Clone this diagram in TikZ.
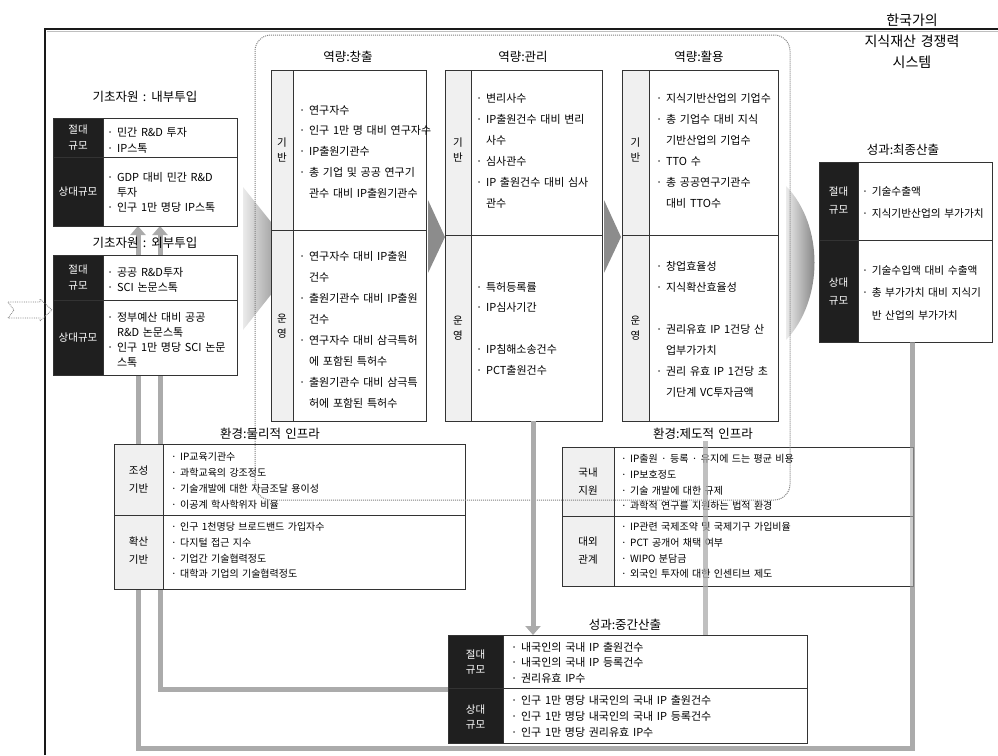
\documentclass[tikz,border=0pt]{standalone}
\usepackage{fontspec}
\setmainfont{Noto Sans CJK KR}[WordSpace=1.5]
\usetikzlibrary{arrows.meta}
\newcommand\myind{\phantom{· }}
\newcommand\mytable[8]{%
  \node[draw=black!80, line width=1pt, fill=white, inner sep=0pt, outer sep=0pt,
        minimum width={(#4-#2)*1pt}, minimum height={(#5-#3)*1pt}] (#1) at ({(#2+#4)/2},{(#3+#5)/2}) {};
  \fill[#8] (#2,#3) rectangle (#6,#5);
  \draw[black!80, line width=1pt] (#2,#3) rectangle (#4,#5) (#6,#3) -- (#6,#5) (#2,#7) -- (#4,#7);
}
\tikzset{
  txt/.style={font=\fontsize{10}{#1}\selectfont, align=left, anchor=west, inner sep=0pt},
  txt/.default=16,
  btxt/.style={font=\fontsize{11}{#1}\selectfont, align=left, anchor=west, inner sep=0pt},
  btxt/.default=16,
  ltxt/.style={font=\fontsize{11}{#1}\selectfont, align=left, anchor=west, inner sep=0pt},
  ltxt/.default=15,
  lbl/.style={font=\fontsize{10.5}{#1}\selectfont, align=center, inner sep=0pt},
  lbl/.default=16,
  ttl/.style={font=\fontsize{12.5}{15}\selectfont, inner sep=0pt},
  fb/.style={draw=black!33, line width=5pt},
  arr/.style={-{Triangle[width=15pt,length=9pt]}},
  blk/.style={black!88},
  lgr/.style={black!6}
}
\begin{document}
\begin{tikzpicture}[x=1pt,y=-1pt]
\useasboundingbox (0,0) rectangle (998,755);

% outer frame
\coordinate (fbl) at (45,755);
\coordinate (ftl) at (45,29);
\coordinate (ftr) at (998,29);
\draw[black!25, line width=1.2pt] (47,31.5) -- (998,31.5);
\draw[black!90, line width=1.8pt] (fbl) -- (ftl) -- (ftr);

\node[font=\fontsize{14}{21}\selectfont, align=center, inner sep=0pt] (title) at (912,41.5) {한국가의\\지식재산 경쟁력\\시스템};

% gradient arrows (behind boxes)
\shade[left color=black!8, right color=black!60] (243,187) -- (300,258) -- (243,330) -- cycle;
\fill[black!45] (428,200) -- (445,237) -- (428,273) -- cycle;
\fill[black!45] (604,200) -- (621,237) -- (604,273) -- cycle;
\shade[left color=black!8, right color=black!60] (786,186) .. controls (824,225) and (824,300) .. (786,340) -- cycle;

% left dotted input arrow
\draw[black!50, densely dotted, line width=0.8pt] (8,302) -- (40,302) -- (40,299) -- (52,310) -- (40,321) -- (40,318) -- (8,318) -- (14,310) -- cycle;

% coordinates for feedback connectors
\coordinate (inA) at (160,226);
\coordinate (inB) at (138,226);
\coordinate (cB) at (138,748);
\coordinate (finS) at (912,342);
\coordinate (midW) at (448,689);

% feedback lines (behind boxes)
\draw[fb, arr] (midW) -| (inA);
\draw[fb, arr] (finS) |- (cB) -- (inB);

% ---------- left: internal input
\node[ttl] (t_in1) at (145,97) {기초자원 : 내부투입};
\mytable{in1}{53}{118}{237}{226}{103}{157}{blk}
\node[lbl, text=white] (l_in1a) at (78,137.5) {절대\\규모};
\node[lbl, text=white] (l_in1b) at (78,191.5) {상대규모};
\node[ltxt=16] (x_in1a) at (107,140) {· 민간 R\&D 투자\\· IP스톡};
\node[ltxt=15] (x_in1b) at (107,192) {· GDP 대비 민간 R\&D\\\myind 투자\\· 인구 1만 명당 IP스톡};

% ---------- left: external input
\node[ttl] (t_in2) at (145,243) {기초자원 : 외부투입};
\mytable{in2}{53}{255}{237}{375}{103}{300}{blk}
\node[lbl, text=white] (l_in2a) at (78,277.5) {절대\\규모};
\node[lbl, text=white] (l_in2b) at (78,337.5) {상대규모};
\node[ltxt=15] (x_in2a) at (107,279.5) {· 공공 R\&D투자\\· SCI 논문스톡};
\node[ltxt=15] (x_in2b) at (107,339.5) {· 정부예산 대비 공공\\\myind R\&D 논문스톡\\· 인구 1만 명당 SCI 논문\\\myind 스톡};

% ---------- capability: creation
\node[ttl] (t_cr) at (348,57) {역량:창출};
\mytable{cr}{271}{70}{426}{421}{293}{230}{lgr}
\node[lbl=15] (l_cra) at (282,150) {기\\반};
\node[lbl=15] (l_crb) at (282,326) {운\\영};
\node[btxt=20.7] (x_cra) at (299,151.5) {· 연구자수\\· 인구 1만 명 대비 연구자수\\· IP출원기관수\\· 총 기업 및 공공 연구기\\\myind 관수 대비 IP출원기관수};
\node[btxt=21] (x_crb) at (299,329.5) {· 연구자수 대비 IP출원\\\myind 건수\\· 출원기관수 대비 IP출원\\\myind 건수\\· 연구자수 대비 삼극특허\\\myind 에 포함된 특허수\\· 출원기관수 대비 삼극특\\\myind 허에 포함된 특허수};

% ---------- capability: management
\node[ttl] (t_mg) at (523,57) {역량:관리};
\mytable{mg}{445}{70}{602}{421}{471}{235}{lgr}
\node[lbl=15] (l_mga) at (458,150) {기\\반};
\node[lbl=15] (l_mgb) at (458,328) {운\\영};
\node[btxt=21] (x_mga) at (476,150.5) {· 변리사수\\· IP출원건수 대비 변리\\\myind 사수\\· 심사관수\\· IP 출원건수 대비 심사\\\myind 관수};
\node[btxt=20.75] (x_mgb) at (476,328.5) {· 특허등록률\\· IP심사기간\\[20.75pt]· IP침해소송건수\\· PCT출원건수};

% ---------- capability: utilisation
\node[ttl] (t_ut) at (699,57) {역량:활용};
\mytable{ut}{622}{70}{778}{421}{649}{235}{lgr}
\node[lbl=15] (l_uta) at (635.5,150) {기\\반};
\node[lbl=15] (l_utb) at (635.5,328) {운\\영};
\node[btxt=21] (x_uta) at (656,150.5) {· 지식기반산업의 기업수\\· 총 기업수 대비 지식\\\myind 기반산업의 기업수\\· TTO 수\\· 총 공공연구기관수\\\myind 대비 TTO수};
\node[btxt=21] (x_utb) at (656,329.5) {· 창업효율성\\· 지식확산효율성\\[21pt]· 권리유효 IP 1건당 산\\\myind 업부가가치\\· 권리 유효 IP 1건당 초\\\myind 기단계 VC투자금액};

% ---------- final output
\node[ttl] (t_fin) at (903,150) {성과:최종산출};
\mytable{fin}{819}{162}{992}{342}{858}{240}{blk}
\node[lbl=18, text=white] (l_fina) at (838.5,201) {절대\\규모};
\node[lbl=18, text=white] (l_finb) at (838.5,292) {상대\\규모};
\node[btxt=21.5, font=\fontsize{10.7}{21.5}\selectfont] (x_fina) at (862,202.5) {· 기술수출액\\· 지식기반산업의 부가가치};
\node[btxt=22.5, font=\fontsize{10.7}{22.5}\selectfont] (x_finb) at (862,292.5) {· 기술수입액 대비 수출액\\· 총 부가가치 대비 지식기\\\myind 반 산업의 부가가치};

% ---------- environment: physical
\node[ttl] (t_phy) at (270,434) {환경:물리적 인프라};
\mytable{phy}{114}{444}{465}{589}{163}{515}{lgr}
\node[lbl=18] (l_phya) at (138.5,480) {조성\\기반};
\node[lbl=18] (l_phyb) at (138.5,551) {확산\\기반};
\node[txt=16] (x_phya) at (171,481) {· IP교육기관수\\· 과학교육의 강조정도\\· 기술개발에 대한 자금조달 용이성\\· 이공계 학사학위자 비율};
\node[txt=15.7] (x_phyb) at (171,550.5) {· 인구 1천명당 브로드밴드 가입자수\\· 다지털 접근 지수\\· 기업간 기술협력정도\\· 대학과 기업의 기술협력정도};

% ---------- environment: institutional
\node[ttl] (t_ins) at (703,434) {환경:제도적 인프라};
\mytable{ins}{562}{447}{913}{586}{614}{516}{lgr}
\node[lbl=18] (l_insa) at (588,482) {국내\\지원};
\node[lbl=18] (l_insb) at (588,551) {대외\\관계};
\node[txt=15.7] (x_insa) at (621,482.5) {· IP출원 · 등록 · 유지에 드는 평균 비용\\· IP보호정도\\· 기술 개발에 대한 규제\\· 과학적 연구를 지원하는 법적 환경};
\node[txt=15.7] (x_insb) at (621,550.5) {· IP관련 국제조약 및 국제기구 가입비율\\· PCT 공개어 채택 여부\\· WIPO 분담금\\· 외국인 투자에 대한 인센티브 제도};

% ---------- intermediate output
\node[ttl] (t_mid) at (625,625) {성과:중간산출};
\mytable{mid}{448}{635}{807}{743}{503}{688}{blk}
\node[lbl=15.5, text=white] (l_mida) at (475.5,662) {절대\\규모};
\node[lbl=15.5, text=white] (l_midb) at (475.5,717) {상대\\규모};
\node[btxt=15.5] (x_mida) at (511,662.5) {· 내국인의 국내 IP 출원건수\\· 내국인의 국내 IP 등록건수\\· 권리유효 IP수};
\node[btxt=16] (x_midb) at (511,716) {· 인구 1만 명당 내국인의 국내 IP 출원건수\\· 인구 1만 명당 내국인의 국내 IP 등록건수\\· 인구 1만 명당 권리유효 IP수};

% dotted capability frame (on top)
\node[draw=black!50, densely dotted, line width=1pt, rounded corners=16pt, inner sep=0pt,
      minimum width=535pt, minimum height=465pt] (capframe) at (522.5,267.5) {};

% connectors to intermediate output
\coordinate (mgS) at (533,421);
\coordinate (midN) at (533,635);
\draw[fb, arr] (mgS) -- (midN);
\coordinate (insN) at (705,441);
\coordinate (midN2) at (705,635);
\draw[fb, draw opacity=0.75] (insN) -- (midN2);
\coordinate (finS2) at (912,600);
\draw[fb, draw opacity=0.6] (finS) -- (finS2);
\end{tikzpicture}
\end{document}
